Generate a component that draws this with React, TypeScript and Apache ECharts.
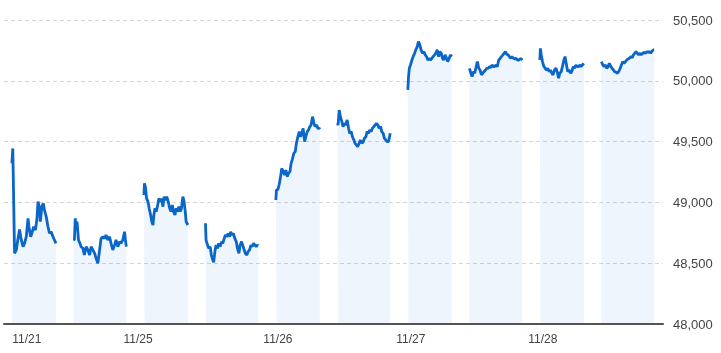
import React, { useEffect, useRef } from "react";
import * as echarts from "echarts";

// x = minutes from session open, y = index price
const s1121am: [number, number][] = [
  [0, 49321], [3, 49444], [6, 49020], [9, 48581], [15, 48609], [20, 48691], [26, 48778], [32, 48691],
  [38, 48636], [43, 48663], [49, 48718], [55, 48869], [58, 48800], [64, 48718], [68, 48746], [74, 48800],
  [80, 48773], [85, 48855], [89, 49006], [93, 48965], [97, 48841], [102, 48965], [107, 48992], [111, 48937],
  [117, 48882], [123, 48800], [128, 48746], [134, 48759], [140, 48718], [145, 48691], [150, 48663],
];
const s1121pm: [number, number][] = [
  [0, 48691], [3, 48691], [6, 48869], [9, 48773], [12, 48841], [17, 48691], [22, 48663], [26, 48636],
  [32, 48622], [37, 48567], [43, 48636], [49, 48609], [55, 48567], [60, 48636], [66, 48609], [72, 48581],
  [77, 48540], [83, 48499], [89, 48609], [94, 48704], [100, 48718], [106, 48704], [111, 48732], [117, 48691],
  [123, 48718], [128, 48663], [134, 48609], [140, 48650], [145, 48691], [151, 48636], [157, 48677], [162, 48663],
  [168, 48691], [174, 48759], [177, 48691], [180, 48636],
];
const s1125am: [number, number][] = [
  [0, 49061], [2, 49156], [6, 49115], [9, 49033], [14, 49006], [18, 48951], [23, 48896], [27, 48841],
  [31, 48814], [34, 48896], [38, 48951], [42, 48924], [47, 48978], [51, 49033], [56, 49006], [60, 49033],
  [65, 48965], [69, 49047], [74, 49019], [78, 49047], [83, 49006], [88, 48951], [92, 48924], [97, 48978],
  [101, 48924], [106, 48896], [110, 48951], [115, 48924], [119, 48965], [124, 48924], [128, 48951], [133, 49047],
  [137, 49006], [141, 48924], [144, 48841], [150, 48814],
];
const s1125pm: [number, number][] = [
  [0, 48828], [2, 48690], [7, 48649], [11, 48622], [16, 48636], [20, 48567], [25, 48526], [28, 48507],
  [32, 48595], [36, 48649], [41, 48622], [45, 48663], [50, 48636], [55, 48677], [59, 48663], [64, 48704],
  [68, 48732], [73, 48718], [77, 48745], [82, 48718], [86, 48759], [91, 48732], [95, 48745], [100, 48704],
  [105, 48677], [109, 48622], [114, 48581], [118, 48649], [123, 48677], [127, 48649], [132, 48608], [136, 48581],
  [141, 48567], [145, 48595], [150, 48608], [155, 48649], [159, 48636], [164, 48663], [168, 48649], [173, 48636],
  [177, 48649], [180, 48644],
];
const s1126am: [number, number][] = [
  [0, 49020], [2, 49102], [7, 49107], [11, 49143], [16, 49212], [20, 49280], [25, 49253], [30, 49225],
  [34, 49266], [39, 49212], [43, 49239], [48, 49253], [52, 49321], [57, 49362], [61, 49403], [66, 49417],
  [70, 49486], [75, 49540], [80, 49582], [84, 49540], [89, 49568], [93, 49609], [98, 49499], [102, 49540],
  [107, 49582], [111, 49595], [116, 49623], [120, 49636], [125, 49705], [130, 49650], [134, 49623], [139, 49636],
  [143, 49609], [148, 49609], [150, 49601],
];
const s1126pm: [number, number][] = [
  [0, 49650], [2, 49636], [6, 49760], [10, 49705], [15, 49664], [19, 49623], [24, 49650], [28, 49636],
  [33, 49678], [38, 49609], [42, 49568], [47, 49582], [51, 49540], [56, 49513], [60, 49486], [65, 49472],
  [69, 49458], [74, 49486], [78, 49513], [83, 49486], [88, 49499], [92, 49527], [97, 49540], [101, 49582],
  [106, 49568], [110, 49595], [115, 49582], [119, 49609], [124, 49623], [128, 49636], [133, 49650], [138, 49636],
  [142, 49609], [147, 49623], [151, 49582], [156, 49568], [160, 49527], [165, 49513], [169, 49499], [174, 49499],
  [180, 49568],
];
const s1127am: [number, number][] = [
  [0, 49925], [2, 50021], [5, 50103], [9, 50130], [14, 50171], [18, 50199], [23, 50226], [27, 50254],
  [32, 50281], [36, 50322], [41, 50295], [45, 50254], [50, 50226], [55, 50240], [59, 50213], [64, 50199],
  [68, 50171], [73, 50185], [77, 50171], [82, 50185], [86, 50199], [91, 50213], [95, 50226], [100, 50254],
  [105, 50199], [109, 50240], [114, 50226], [118, 50185], [123, 50171], [127, 50213], [132, 50185], [136, 50158],
  [141, 50185], [145, 50213], [150, 50199],
];
const s1127pm: [number, number][] = [
  [0, 50103], [5, 50062], [9, 50034], [14, 50076], [18, 50062], [23, 50117], [27, 50158], [32, 50103],
  [36, 50089], [41, 50048], [45, 50062], [50, 50076], [55, 50089], [59, 50103], [64, 50103], [68, 50117],
  [73, 50108], [77, 50130], [82, 50117], [86, 50117], [91, 50130], [95, 50117], [100, 50171], [105, 50185],
  [109, 50199], [114, 50213], [118, 50226], [123, 50240], [127, 50218], [132, 50213], [136, 50199], [141, 50185],
  [145, 50199], [150, 50185], [155, 50180], [159, 50185], [164, 50171], [168, 50171], [173, 50180], [177, 50180],
  [180, 50171],
];
const s1128am: [number, number][] = [
  [0, 50171], [2, 50267], [5, 50213], [9, 50158], [14, 50117], [18, 50103], [23, 50089], [27, 50103],
  [32, 50076], [36, 50089], [41, 50062], [45, 50048], [50, 50089], [55, 50103], [59, 50076], [64, 50021],
  [68, 50062], [73, 50076], [77, 50117], [82, 50171], [86, 50199], [91, 50130], [95, 50076], [100, 50089],
  [105, 50062], [109, 50076], [114, 50117], [118, 50103], [123, 50130], [127, 50117], [132, 50117], [136, 50130],
  [141, 50117], [145, 50130], [150, 50144],
];
const s1128pm: [number, number][] = [
  [0, 50158], [5, 50130], [9, 50117], [14, 50130], [18, 50103], [23, 50117], [27, 50144], [32, 50117],
  [36, 50103], [41, 50089], [45, 50076], [50, 50070], [55, 50062], [59, 50076], [64, 50103], [68, 50130],
  [73, 50158], [77, 50144], [82, 50158], [86, 50171], [91, 50180], [95, 50185], [100, 50199], [105, 50191],
  [109, 50213], [114, 50226], [118, 50240], [123, 50226], [127, 50213], [132, 50226], [136, 50213], [141, 50226],
  [145, 50234], [150, 50226], [155, 50240], [159, 50234], [164, 50240], [168, 50226], [173, 50245], [177, 50254],
  [180, 50254],
];

const sessions = [s1121am, s1121pm, s1125am, s1125pm, s1126am, s1126pm, s1127am, s1127pm, s1128am, s1128pm];
// compressed-time start of each session (AM 150 min, lunch 60, PM 180, overnight 60)
const sessionStarts = [0, 210, 450, 660, 900, 1110, 1350, 1560, 1800, 2010];

const dateLabels = ["11/21", "11/25", "11/26", "11/27", "11/28"];
const labelTimes = [51, 430, 907, 1360, 1810];

const yMin = 48000;
const yMax = 50500;
const yStep = 500;

const FONT = 'Arial, "Liberation Sans", sans-serif';

export default function App() {
  const ref = useRef<HTMLDivElement>(null);
  useEffect(() => {
    if (!ref.current) return;
    const chart = echarts.init(ref.current, undefined, { renderer: "svg" });
    const series = sessions.map((s, i) => ({
      type: "line",
      data: s.map(([m, v]) => [sessionStarts[i] + m, v]),
      showSymbol: false,
      symbol: "none",
      lineStyle: { color: "#0a66c8", width: 2.8 },
      itemStyle: { color: "#0a66c8" },
      areaStyle: { color: "rgba(0,102,204,0.09)", origin: "start" },
      silent: true,
    }));
    chart.setOption({
      animation: false,
      grid: { left: 4, top: 20, width: 659, height: 304 },
      xAxis: {
        type: "value",
        min: -27,
        max: 2220,
        axisLine: { show: true, lineStyle: { color: "#555", width: 2 } },
        axisTick: { show: false },
        splitLine: { show: false },
        axisLabel: {
          customValues: labelTimes,
          formatter: (v: number) => {
            const i = labelTimes.indexOf(v);
            return i >= 0 ? dateLabels[i] : "";
          },
          color: "#444",
          fontSize: 12,
          fontFamily: FONT,
          margin: 9,
        },
      },
      yAxis: {
        type: "value",
        position: "right",
        min: yMin,
        max: yMax,
        interval: yStep,
        axisLine: { show: false },
        axisTick: { show: false },
        splitLine: { show: true, lineStyle: { color: "#d6d6d6", type: [4, 3], width: 1 } },
        axisLabel: {
          formatter: (v: number) => v.toLocaleString("en-US"),
          color: "#444",
          fontSize: 13,
          fontFamily: FONT,
          margin: 10,
        },
      },
      series,
    });
    return () => chart.dispose();
  }, []);
  return (
    <div
      ref={ref}
      style={{ position: "fixed", left: 0, top: 0, width: 721, height: 353 }}
    />
  );
}
